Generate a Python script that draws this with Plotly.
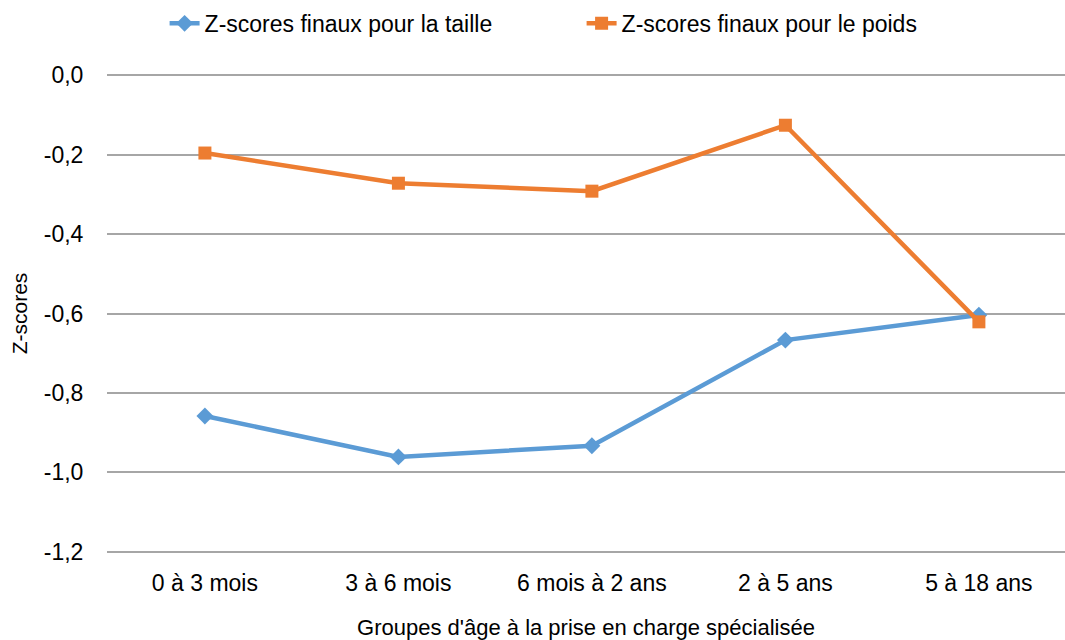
import plotly.graph_objects as go

categories = ["0 à 3 mois", "3 à 6 mois", "6 mois à 2 ans", "2 à 5 ans", "5 à 18 ans"]
taille = [-0.858, -0.961, -0.933, -0.667, -0.604]
poids = [-0.196, -0.272, -0.292, -0.126, -0.621]
y_tickvals = [0.0, -0.2, -0.4, -0.6, -0.8, -1.0, -1.2]
y_ticktext = ["0,0", "-0,2", "-0,4", "-0,6", "-0,8", "-1,0", "-1,2"]

FONT = "Liberation Sans, Arial, Helvetica, sans-serif"

fig = go.Figure()
fig.add_trace(go.Scatter(
    x=categories, y=taille, mode="lines+markers",
    name="Z-scores finaux pour la taille",
    line=dict(color="#5B9BD5", width=4.5),
    marker=dict(symbol="diamond", size=13, color="#5B9BD5"),
    cliponaxis=False,
))
fig.add_trace(go.Scatter(
    x=categories, y=poids, mode="lines+markers",
    name="Z-scores finaux pour le poids",
    line=dict(color="#ED7D31", width=4.5),
    marker=dict(symbol="square", size=13, color="#ED7D31"),
    cliponaxis=False,
))

fig.update_layout(
    width=1065, height=640,
    margin=dict(l=107, r=0, t=72, b=85),
    paper_bgcolor="white", plot_bgcolor="white",
    font=dict(family=FONT, size=23, color="black"),
    showlegend=True,
    legend=dict(orientation="h", xref="container", yref="container",
                x=0.5461, y=0.997, xanchor="center", yanchor="top",
                font=dict(size=23), entrywidth=372, entrywidthmode="pixels"),
)
fig.update_xaxes(
    type="category", range=[-0.506, 4.445],
    showgrid=False, zeroline=False, showline=False,
    ticks="outside", ticklen=7, tickcolor="white",
    title=dict(text="Groupes d'âge à la prise en charge spécialisée", standoff=27,
               font=dict(size=22)),
)
fig.update_yaxes(
    range=[-1.208, 0.008],
    tickvals=y_tickvals, ticktext=y_ticktext,
    showgrid=True, gridcolor="#A6A6A6", gridwidth=1.5,
    zeroline=False, showline=False,
    ticks="outside", ticklen=18, tickcolor="white",
    title=dict(text="Z-scores", standoff=10, font=dict(size=21)),
)

fig.write_html(
    "out.html",
    config={"displayModeBar": False},
    post_script="document.body.style.margin='0';document.body.style.overflow='hidden';",
)
